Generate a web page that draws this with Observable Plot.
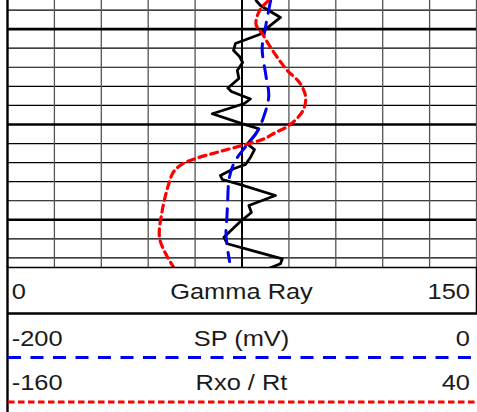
<!DOCTYPE html>
<html>
<head>
<meta charset="utf-8">
<script src="https://cdn.jsdelivr.net/npm/d3@7"></script>
<script src="https://cdn.jsdelivr.net/npm/@observablehq/plot@0.6"></script>
<style>
  body { margin: 0; background: #fff; }
  #wrap { position: relative; width: 477px; height: 412px; overflow: hidden; background: #fff; }
  #wrap > svg { position: absolute; left: 0; top: 0; }
</style>
</head>
<body>
<div id="wrap"></div>
<script>
// ---- Data ----
const depthTop = 4997;
const depthBottom = 5025;
const gridDepths = [4998, 5002, 5004, 5006, 5008, 5012, 5014, 5016, 5018, 5022, 5024];
const majorDepths = [5000, 5010, 5020];

const trackNames = ["Gamma Ray", "SP (mV)", "Rxo / Rt"];
const trackMin = [0, -200, -160];
const trackMax = [150, 0, 40];
const trackMinLabels = ["0", "-200", "-160"];
const trackMaxLabels = ["150", "0", "40"];
const grGrid = [15, 30, 45, 60, 90, 105, 120, 135, 150];

const grDepth = [4997.00, 4997.52, 4998.78, 4999.94, 5000.57, 5001.51, 5002.24, 5002.87, 5003.50, 5004.34,
  5005.18, 5006.18, 5006.54, 5007.33, 5007.80, 5008.88, 5009.93, 5010.45, 5011.05, 5012.03,
  5012.63, 5013.46, 5014.20, 5014.65, 5015.35, 5015.77, 5016.30, 5017.45, 5018.50, 5019.23,
  5020.18, 5021.82, 5022.51, 5023.22, 5024.09, 5024.61, 5025.10];
const grValue = [79.5, 80.9, 87.3, 82.8, 80.6, 72.9, 72.3, 74.2, 75.2, 73.5,
  74.0, 70.5, 71.6, 77.7, 75.8, 65.5, 75.2, 80.4, 79.3, 76.7,
  79.0, 77.7, 76.1, 72.3, 68.1, 68.7, 74.5, 85.7, 77.2, 78.0,
  74.5, 69.2, 70.3, 78.3, 87.9, 87.3, 83.6];

const spDepth = [4997.00, 4999.83, 5002.03, 5004.87, 5007.07, 5009.58, 5010.74, 5011.89, 5013.46, 5014.51,
  5015.88, 5017.97, 5019.55, 5021.64, 5024.37];
const spValue = [-87.8, -90.0, -91.4, -89.8, -88.6, -91.3, -93.5, -97.0, -102.0, -104.2,
  -105.6, -106.1, -106.4, -106.8, -105.3];

const rtDepth = [4997.00, 4998.05, 4999.52, 5000.46, 5001.93, 5003.29, 5004.34, 5005.60, 5007.07, 5008.54,
  5010.11, 5010.84, 5011.52, 5012.21, 5012.94, 5013.57, 5014.09, 5014.93, 5016.30, 5019.02,
  5021.82, 5023.43, 5025.00];
const rtValue = [-48.7, -52.5, -54.0, -51.4, -47.8, -44.0, -40.7, -35.5, -32.9, -34.0,
  -40.0, -45.7, -50.7, -60.0, -70.9, -79.8, -85.0, -89.1, -91.3, -94.0,
  -95.2, -92.8, -89.1];

// ---- Build ----
const W = 477, H = 267;
const wrap = document.getElementById("wrap");
const gr = grDepth.map((d, i) => ({depth: d, value: grValue[i]}));
const sp = spDepth.map((d, i) => ({depth: d, value: spValue[i]}));
const rt = rtDepth.map((d, i) => ({depth: d, value: rtValue[i]}));

const common = (k) => ({
  width: W, height: H,
  marginLeft: 7, marginRight: 1, marginTop: 0, marginBottom: 0,
  x: {domain: [trackMin[k], trackMax[k]], axis: null},
  y: {domain: [depthTop, depthBottom], reverse: true, axis: null},
  style: {background: "transparent"}
});

const base = Plot.plot({
  ...common(0),
  marks: [
    Plot.ruleY(gridDepths, {stroke: "#000", strokeWidth: 1.2}),
    Plot.ruleX(grGrid, {stroke: "#555", strokeWidth: 1.3}),
    Plot.ruleY(majorDepths, {stroke: "#000", strokeWidth: 2.6}),
    Plot.ruleX([(trackMin[0] + trackMax[0]) / 2], {stroke: "#000", strokeWidth: 2}),
    Plot.ruleX([trackMin[0]], {stroke: "#000", strokeWidth: 2.4}),
    Plot.line(gr, {x: "value", y: "depth", stroke: "#000", strokeWidth: 2.8, strokeLinejoin: "round", curve: "linear", clip: true})
  ]
});
wrap.appendChild(base);

const spPlot = Plot.plot({
  ...common(1),
  marks: [
    Plot.line(sp, {x: "value", y: "depth", stroke: "#0000ee", strokeWidth: 3, strokeDasharray: "13,9", curve: "catmull-rom", clip: true})
  ]
});
wrap.appendChild(spPlot);

const rtPlot = Plot.plot({
  ...common(2),
  marks: [
    Plot.line(rt, {x: "value", y: "depth", stroke: "#ff0000", strokeWidth: 3.2, strokeDasharray: "7,5", curve: "catmull-rom", clip: true})
  ]
});
wrap.appendChild(rtPlot);

// ---- Header / legend panel below the track ----
const svg = d3.create("svg").attr("width", W).attr("height", 412)
  .style("position", "absolute").style("left", 0).style("top", 0);
const L = 7, R = 477;
svg.append("line").attr("x1", L).attr("x2", R).attr("y1", 267.5).attr("y2", 267.5).attr("stroke", "#000").attr("stroke-width", 1.5);
svg.append("line").attr("x1", L).attr("x2", R).attr("y1", 313.5).attr("y2", 313.5).attr("stroke", "#000").attr("stroke-width", 2.4);
svg.append("line").attr("x1", 476.5).attr("x2", 476.5).attr("y1", 267).attr("y2", 314).attr("stroke", "#000").attr("stroke-width", 1.5);
svg.append("line").attr("x1", 7.5).attr("x2", 7.5).attr("y1", 266).attr("y2", 412).attr("stroke", "#000").attr("stroke-width", 2.4);
svg.append("line").attr("x1", 8).attr("x2", R).attr("y1", 357.5).attr("y2", 357.5).attr("stroke", "#0000ee").attr("stroke-width", 3).attr("stroke-dasharray", "13,9.5");
svg.append("line").attr("x1", 8).attr("x2", R).attr("y1", 402).attr("y2", 402).attr("stroke", "#ff0000").attr("stroke-width", 3).attr("stroke-dasharray", "6.5,3.5");

const baselines = [298.5, 346, 390];
const addText = (x, y, anchor, str) => {
  svg.append("text")
    .attr("transform", `translate(${x},${y}) scale(1.13,1)`)
    .attr("text-anchor", anchor)
    .attr("font-family", "'Liberation Sans', Arial, sans-serif")
    .attr("font-size", 22.5)
    .attr("fill", "#1a1a1a")
    .text(str);
};
trackNames.forEach((name, k) => {
  addText(11.7, baselines[k], "start", trackMinLabels[k]);
  addText(241.5, baselines[k], "middle", name);
  addText(470, baselines[k], "end", trackMaxLabels[k]);
});
wrap.appendChild(svg.node());
</script>
</body>
</html>
